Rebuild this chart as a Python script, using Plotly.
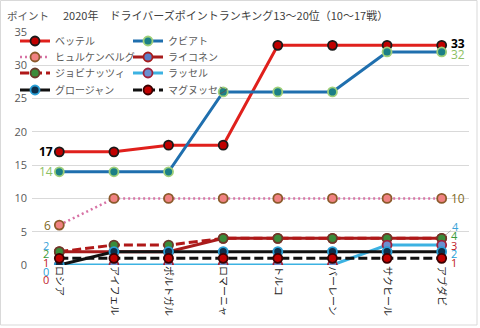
import plotly.graph_objects as go

# Races 10-17 of the 2020 season
races = ["ロシア", "アイフェル", "ポルトガル", "ロマーニャ", "トルコ", "バーレーン", "サクヒール", "アブダビ"]

# Cumulative points per driver (ranks 13-20)
vettel = [17, 17, 18, 18, 33, 33, 33, 33]
kvyat = [14, 14, 14, 26, 26, 26, 32, 32]
hulkenberg = [6, 10, 10, 10, 10, 10, 10, 10]
raikkonen = [2, 2, 2, 4, 4, 4, 4, 4]
giovinazzi = [2, 3, 3, 4, 4, 4, 4, 4]
russell = [0, 0, 0, 0, 0, 0, 3, 3]
grosjean = [0, 2, 2, 2, 2, 2, 2, 2]
magnussen = [1, 1, 1, 1, 1, 1, 1, 1]

y_ticks = [0, 5, 10, 15, 20, 25, 30, 35]

JP = "Noto Sans CJK JP"
GRAY = "#595959"

W, H = 480, 328
ML, MR, MT, MB = 32, 11, 32, 63
PW, PH = W - ML - MR, H - MT - MB


def px_x(p):
    return (p - ML) / PW


def px_y(p):
    return (H - MB - p) / PH


series = [
    # name, values, line color, width, dash, marker fill, marker border, label color
    ("ベッテル", vettel, "#e0201c", 3, "solid", "#c00000", "#1a1a1a", "#000000"),
    ("クビアト", kvyat, "#1f6fae", 3, "solid", "#1b7f86", "#9fd07a", "#8dc063"),
    ("ヒュルケンベルグ", hulkenberg, "#d873a6", 2.5, "2px,3px", "#f08282", "#8b5a2b", "#7f6a1f"),
    ("ライコネン", raikkonen, "#a81c1c", 3, "solid", "#5b7fc8", "#a81c1c", "#3aa3d8"),
    ("ジョビナッツィ", giovinazzi, "#b01818", 3, "9px,4px", "#3a8c3a", "#6a3a2a", "#3a9a3a"),
    ("ラッセル", russell, "#3cb2e2", 3, "solid", "#6b8fd0", "#a0203a", "#c0202a"),
    ("グロージャン", grosjean, "#111111", 3, "solid", "#0d2f4a", "#2a9fd6", "#2a9fd6"),
    ("マグヌッセン", magnussen, "#111111", 3, "9px,4px", "#c00000", "#3a0000", "#c02020"),
]

# legend entries laid out in two columns, four rows (pixel positions)
legend_cols = [15, 128]
legend_rows = [41, 57, 73, 90]

fig = go.Figure()
legend_layout = {}
for k, (name, vals, lc, lw, dash, mf, mb, _) in enumerate(series):
    key = "legend" if k == 0 else f"legend{k + 1}"
    fig.add_trace(go.Scatter(
        x=races, y=vals, name=name, mode="lines+markers",
        line=dict(color=lc, width=lw, dash=dash),
        marker=dict(size=9, color=mf, line=dict(color=mb, width=1.8)),
        legend=key,
    ))
    legend_layout[key] = dict(
        x=legend_cols[k % 2] / W, y=1 - legend_rows[k // 2] / H,
        xref="container", yref="container", xanchor="left", yanchor="middle",
        bgcolor="rgba(0,0,0,0)", borderwidth=0, itemwidth=30,
        font=dict(family=JP, size=10, color=GRAY),
    )

colors = {s[0]: s[7] for s in series}

# value labels at the first and last race: (name, values, index, xshift, yshift, size, bold)
labels = [
    ("ベッテル", vettel, 0, -4, 0, 12, True),
    ("クビアト", kvyat, 0, -4, 0, 12, False),
    ("ヒュルケンベルグ", hulkenberg, 0, -6, 0, 12, False),
    ("ライコネン", raikkonen, 0, -8, 6, 11, False),
    ("ジョビナッツィ", giovinazzi, 0, -8, -2, 11, False),
    ("マグヌッセン", magnussen, 0, -8, -4, 11, False),
    ("グロージャン", grosjean, 0, -8, -6, 11, False),
    ("ラッセル", russell, 0, -8, -14, 11, False),
    ("ベッテル", vettel, 7, 7, 2, 12, True),
    ("クビアト", kvyat, 7, 7, -3, 12, False),
    ("ヒュルケンベルグ", hulkenberg, 7, 7, 0, 12, False),
    ("ジョビナッツィ", giovinazzi, 7, 7, 3, 11, False),
    ("ラッセル", russell, 7, 7, 0, 11, False),
    ("グロージャン", grosjean, 7, 7, -2, 11, False),
    ("マグヌッセン", magnussen, 7, 7, -4, 11, False),
]
for name, vals, i, xs, ys, fs, bold in labels:
    v = vals[i]
    txt = f"<b>{v}</b>" if bold else str(v)
    fig.add_annotation(
        x=races[i], y=v, text=txt, showarrow=False,
        xanchor="right" if i == 0 else "left", yanchor="middle",
        xshift=xs, yshift=ys,
        font=dict(family="Open Sans", size=fs, color=colors[name]),
    )

# Raikkonen's final label sits above the others with a leader line
fig.add_annotation(
    x=races[7], y=raikkonen[7], text=str(raikkonen[7]),
    showarrow=True, arrowhead=0, arrowwidth=0.8, arrowcolor="#a6a6a6",
    ax=14, ay=-12, standoff=5,
    font=dict(family="Open Sans", size=11, color=colors["ライコネン"]),
)

# chart title and axis caption
fig.add_annotation(
    xref="paper", yref="paper", x=px_x(225), y=px_y(15),
    text="2020年　ドライバーズポイントランキング13～20位（10～17戦）",
    showarrow=False, xanchor="center", yanchor="middle",
    font=dict(family=JP, size=11, color="#404040"),
)
fig.add_annotation(
    xref="paper", yref="paper", x=px_x(5), y=px_y(15),
    text="ポイント", showarrow=False, xanchor="left", yanchor="middle",
    font=dict(family=JP, size=10.5, color=GRAY),
)

# white panel behind the legend, hiding the gridline there
fig.add_shape(
    type="rect", xref="paper", yref="paper",
    x0=px_x(26), x1=px_x(242), y0=px_y(96), y1=px_y(35),
    line=dict(width=0), fillcolor="white", layer="between",
)

# outer chart border
fig.add_shape(
    type="rect", xref="paper", yref="paper",
    x0=px_x(0.5), x1=px_x(477), y0=px_y(325), y1=px_y(0.5),
    line=dict(color="#d9d9d9", width=1), fillcolor="rgba(0,0,0,0)", layer="below",
)

fig.update_layout(
    width=W, height=H,
    margin=dict(l=ML, r=MR, t=MT, b=MB, autoexpand=False),
    paper_bgcolor="white", plot_bgcolor="white",
    showlegend=True,
    **legend_layout,
    xaxis=dict(
        type="category", range=[-0.5, 7.5], tickangle=90,
        showgrid=False, showline=False, zeroline=False, ticks="",
        tickfont=dict(family=JP, size=10, color="#262626"),
    ),
    yaxis=dict(
        range=[0, 35], tickvals=y_ticks, showgrid=True, gridcolor="#d9d9d9",
        gridwidth=1, zeroline=False, showline=False, ticks="",
        tickfont=dict(family="Open Sans", size=11, color=GRAY),
        ticklabelstandoff=4,
    ),
)

fig.write_html("out.html")
